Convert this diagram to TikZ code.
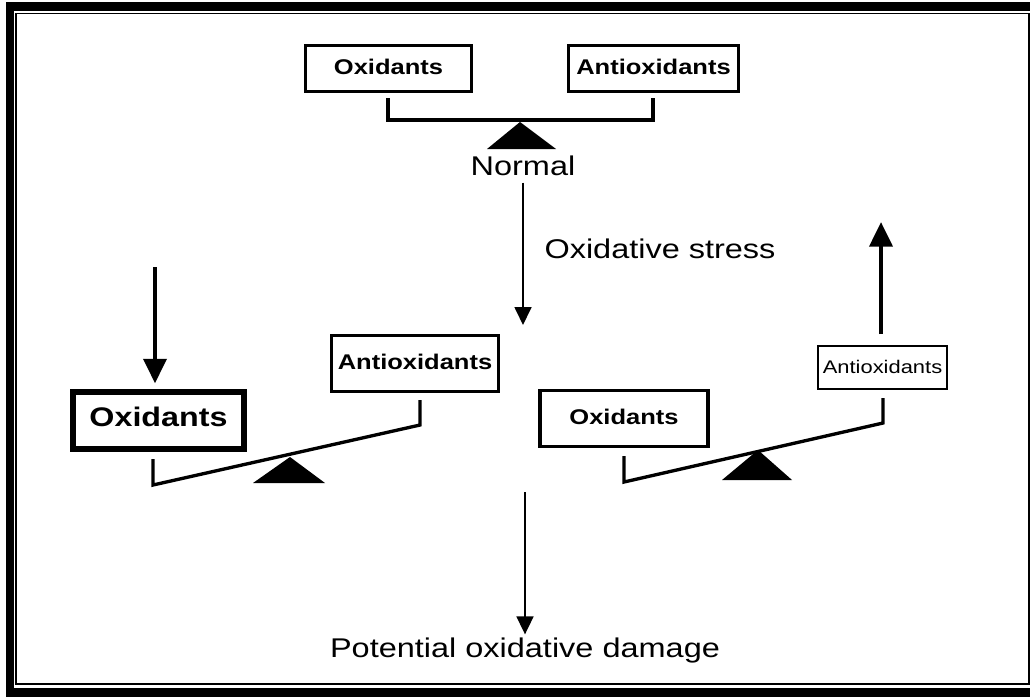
\documentclass[tikz,border=0pt]{standalone}
\usepackage{fontspec}
\setmainfont[FakeStretch=1.2]{Liberation Sans}
\usetikzlibrary{arrows.meta}

\begin{document}
\begin{tikzpicture}[x=0.02cm,y=-0.02cm,
    box/.style={draw,line width=1.8pt,inner sep=0pt,outer sep=0pt,text height=0.716em,text depth=0pt,font=\fontsize{12.1}{14}\selectfont\bfseries},
    txt/.style={inner sep=0pt,text height=0.716em,text depth=0pt,font=\fontsize{15.4}{18}\selectfont},
    beam/.style={line width=1.9pt,line join=miter},
    thinarrow/.style={line width=1.1pt,-{Triangle[width=9.6pt,length=10.2pt]}},
    thickarrow/.style={line width=2.4pt,-{Triangle[width=13pt,length=14pt]}}]
      \useasboundingbox (0,0) rectangle (1030,697);
      \fill (6,2) rectangle (1030,11);
      \fill (6,2) rectangle (14,697);
      \fill (6,688) rectangle (1030,697);
      \draw[line width=0.9pt] (16,13.3) rectangle (1029,684.2);

      \node[box,minimum width=94.1pt,minimum height=26.1pt] (oxN) at (388.5,68.5) {Oxidants};
      \node[box,minimum width=96.4pt,minimum height=26.1pt] (antN) at (653.5,68.5) {Antioxidants};
      \draw[beam] (388,98) |- (653,120) -- (653,98);
      \fill (520,122) -- (487,149) -- (556,149) -- cycle;
      \node[txt] (normal) at (523,169) {Normal};

      \coordinate (tilt) at (523,325);
      \draw[thinarrow,shorten <=4pt] (normal) -- (tilt);
      \node[txt] (stress) at (660,252.5) {Oxidative stress};

      \node[box,line width=3.4pt,minimum width=96.9pt,minimum height=32.3pt,font=\fontsize{15.3}{18}\selectfont\bfseries] (oxL) at (158.5,420.5) {Oxidants};
      \node[box,minimum width=94.7pt,minimum height=31.7pt] (antL) at (415,363.5) {Antioxidants};
      \draw[beam] (153,459) -- (153,485) -- (420,425) -- (420,400);
      \fill (290,457) -- (253,483) -- (325,483) -- cycle;
      \coordinate (oxin) at (155,267);
      \draw[thickarrow,shorten >=5pt] (oxin) -- (oxin |- oxL.north);

      \node[box,line width=2pt,minimum width=95.8pt,minimum height=31.7pt] (oxR) at (624,418.5) {Oxidants};
      \node[box,line width=1.1pt,minimum width=73.1pt,minimum height=24.4pt,font=\fontsize{10.4}{12}\selectfont] (antR) at (882.5,367.5) {Antioxidants};
      \draw[beam] (624,456) -- (624,482) -- (883,423) -- (883,398);
      \fill (758,450) -- (722,480) -- (792,480) -- cycle;
      \coordinate (antout) at (881,222);
      \draw[thickarrow,shorten <=6.8pt] (antout |- antR.north) -- (antout);

      \coordinate (fork) at (525,492);
      \node[txt] (damage) at (525,651) {Potential oxidative damage};
      \draw[thinarrow,shorten >=5.7pt] (fork) -- (fork |- damage.north);
\end{tikzpicture}
\end{document}
